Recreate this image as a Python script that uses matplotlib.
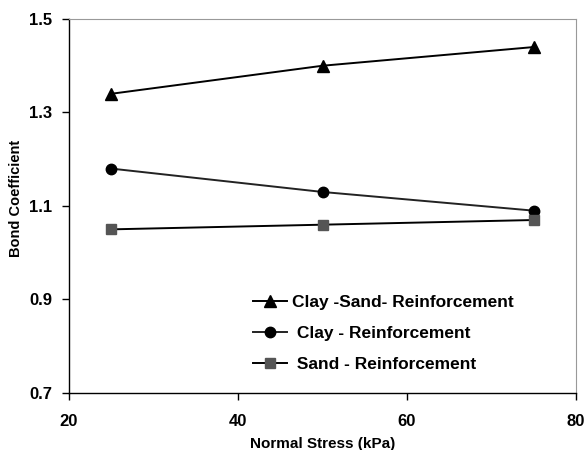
import matplotlib.pyplot as plt

plt.rcParams['font.family'] = ['Liberation Sans', 'DejaVu Sans']
plt.rcParams['font.weight'] = 'bold'

stress = [25, 50, 75]
clay_sand = [1.34, 1.40, 1.44]
clay = [1.18, 1.13, 1.09]
sand = [1.05, 1.06, 1.07]

fig = plt.figure(figsize=(5.86, 4.5), dpi=100)
ax = fig.add_axes([0.1177, 0.1267, 0.8653, 0.8311])

ax.plot(stress, clay_sand, color='black', lw=1.4, marker='^', ms=8, label='Clay -Sand- Reinforcement')
ax.plot(stress, clay, color='#222222', lw=1.4, marker='o', ms=7.5, mfc='black', mec='black', label=' Clay - Reinforcement')
ax.plot(stress, sand, color='black', lw=1.4, marker='s', ms=7, mfc='#555555', mec='#555555', label=' Sand - Reinforcement')

ax.set_xlim(20, 80)
ax.set_ylim(0.7, 1.5)
ax.set_xticks([20, 40, 60, 80])
ax.set_yticks([0.7, 0.9, 1.1, 1.3, 1.5])
ax.tick_params(direction='out', length=5, width=1, labelsize=12)
ax.tick_params(axis='x', pad=10)
ax.tick_params(axis='y', pad=7)
for lbl in ax.get_xticklabels() + ax.get_yticklabels():
    lbl.set_fontweight('bold')

ax.spines['top'].set_color('#999999')
ax.spines['right'].set_color('#999999')
ax.spines['left'].set_linewidth(1)
ax.spines['bottom'].set_linewidth(1)

ax.set_xlabel('Normal Stress (kPa)', fontsize=11, fontweight='bold', labelpad=6)
ax.set_ylabel('Bond Coefficient', fontsize=10.5, fontweight='bold', labelpad=2)
ax.yaxis.set_label_coords(-0.09, 0.52)

ax.legend(loc='upper left', bbox_to_anchor=(0.362, 0.262), frameon=False,
          borderpad=0, borderaxespad=0,
          prop={'size': 12.5, 'weight': 'bold'}, handlelength=2.0, handletextpad=0.3,
          labelspacing=0.92)

fig.savefig('out.png', dpi=100)
